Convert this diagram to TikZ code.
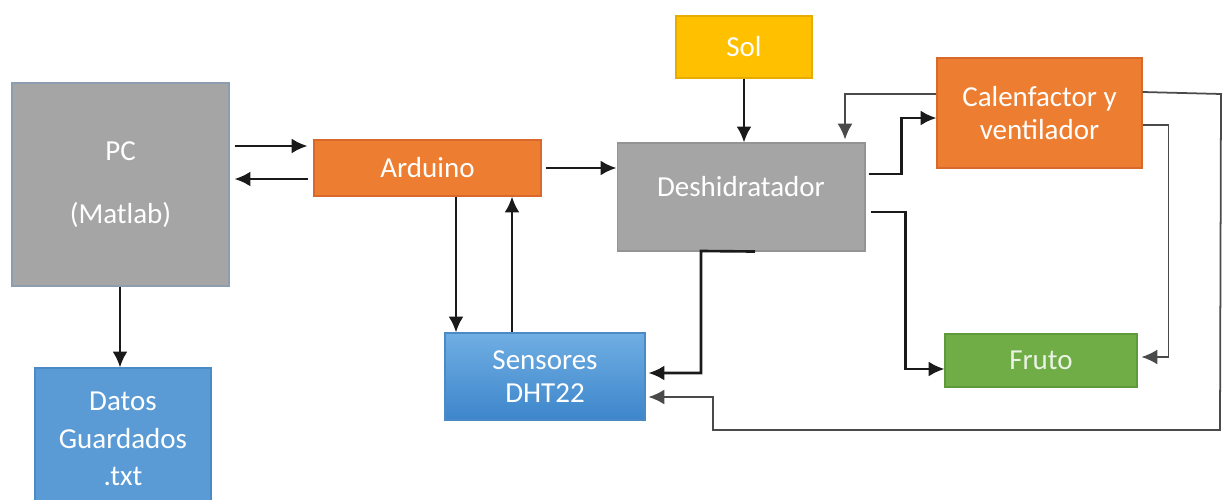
\documentclass[tikz,border=0pt]{standalone}
\usepackage{fontspec}
\setmainfont{Carlito}
\usetikzlibrary{arrows.meta}
\definecolor{cgray}{HTML}{A5A5A5}
\definecolor{cgrayb}{HTML}{8C9DB0}
\definecolor{corange}{HTML}{ED7D31}
\definecolor{corangeb}{HTML}{D9692A}
\definecolor{cyellow}{HTML}{FFC000}
\definecolor{cyellowb}{HTML}{E6AD00}
\definecolor{cgreen}{HTML}{70AD47}
\definecolor{cgreenb}{HTML}{5F9A3A}
\definecolor{cblue}{HTML}{5B9BD5}
\definecolor{cblueb}{HTML}{4A8AC5}
\definecolor{cbluetop}{HTML}{70AEE3}
\definecolor{cbluebot}{HTML}{3D86CB}
\definecolor{cline}{HTML}{1A1A1A}
\definecolor{clinegray}{HTML}{4A4A4A}
\begin{document}
\begin{tikzpicture}[x=0.02cm,y=-0.02cm,
  bx/.style={rectangle, inner sep=0pt, line width=0.6pt, align=center,
    font=\fontsize{16.5}{22}\selectfont, text=white},
  arr/.style={draw=cline, line width=1.5pt, -{Latex[length=9pt,width=8.5pt]}},
  arrg/.style={draw=clinegray, line width=1pt, -{Latex[length=9pt,width=8.5pt]}}
]
\useasboundingbox (0,0) rectangle (1225,500);

\node[bx, fill=cgray, draw=cgrayb, minimum width=4.34cm, minimum height=4.06cm] (pc) at (120.5,184.5) {PC\\[0.5cm](Matlab)};
\node[bx, fill=cblue, draw=cblueb, minimum width=3.52cm, minimum height=2.84cm] (datos) at (123,439) {Datos\\[-0.02cm]Guardados\\[-0.02cm].txt};
\node[bx, fill=corange, draw=corangeb, minimum width=4.54cm, minimum height=1.12cm] (arduino) at (427.5,168) {Arduino};
\node[bx, top color=cbluetop, bottom color=cbluebot, draw=cblueb, minimum width=4.0cm, minimum height=1.74cm] (sens) at (545,376.5) {Sensores\\[-0.12cm]DHT22};
\node[bx, fill=cgray, draw=cgray!90!black, minimum width=4.96cm, minimum height=2.16cm,
  label={[font=\fontsize{16.5}{20}\selectfont, text=white, yshift=0.2cm]center:Deshidratador}] (desh) at (741,197) {};
\node[bx, fill=cyellow, draw=cyellowb, minimum width=2.72cm, minimum height=1.24cm] (sol) at (744,47) {Sol};
\node[bx, fill=corange, draw=corangeb, minimum width=4.1cm, minimum height=2.2cm] (cal) at (1039.5,113) {Calenfactor y\\[-0.12cm]ventilador};
\node[bx, fill=cgreen, draw=cgreenb, minimum width=3.84cm, minimum height=1.06cm, text=white!85!cgreen] (fruto) at (1041,360.5) {Fruto};

% PC <-> Arduino
\draw[arr, shorten <=0.1cm, shorten >=0.12cm] (pc.east |- 0,146) -- (arduino.west |- 0,146);
\draw[arr, shorten <=0.1cm, shorten >=0.1cm] (arduino.west |- 0,179) -- (pc.east |- 0,179);
% PC -> Datos
\draw[arr] (pc.south -| 120,0) -- (datos.north -| 120,0);
% Arduino -> Deshidratador
\draw[arr, shorten <=0.08cm] (arduino.east |- 0,168) -- (desh.west |- 0,168);
% Arduino <-> Sensores
\draw[arr] (arduino.south -| 456,0) -- (sens.north -| 456,0);
\draw[arr] (sens.north -| 512,0) -- (arduino.south -| 512,0);
% Sol -> Deshidratador
\draw[arr] (sol.south -| 744,0) -- (desh.north -| 744,0);
% Calenfactor -> Deshidratador
\draw[arrg, shorten >=0.06cm] (cal.west |- 0,94) -| (desh.north -| 845,0);
% Deshidratador -> Calenfactor
\draw[arr, shorten <=0.06cm] (desh.east |- 0,174) -- ++(36,0) |- (cal.west |- 0,118);
% Deshidratador -> Fruto
\draw[arr, shorten <=0.1cm] (desh.east |- 0,212) -- ++(40,0) |- (fruto.west |- 0,369);
% Calenfactor -> Fruto
\draw[arrg, shorten >=0.08cm] (cal.east |- 0,125) -- ++(26,0) |- (fruto.east |- 0,357);
% Calenfactor -> Sensores (long loop)
\draw[arrg, shorten >=0.06cm] (cal.east |- 0,92) -- (1221,94) -- (1220,430) -- (713,430) |- (sens.east |- 0,397);
% Deshidratador -> Sensores
\draw[arr, shorten >=0.06cm] (desh.south -| 755,0) -- (701,251) |- (sens.east |- 0,373);
\end{tikzpicture}
\end{document}
